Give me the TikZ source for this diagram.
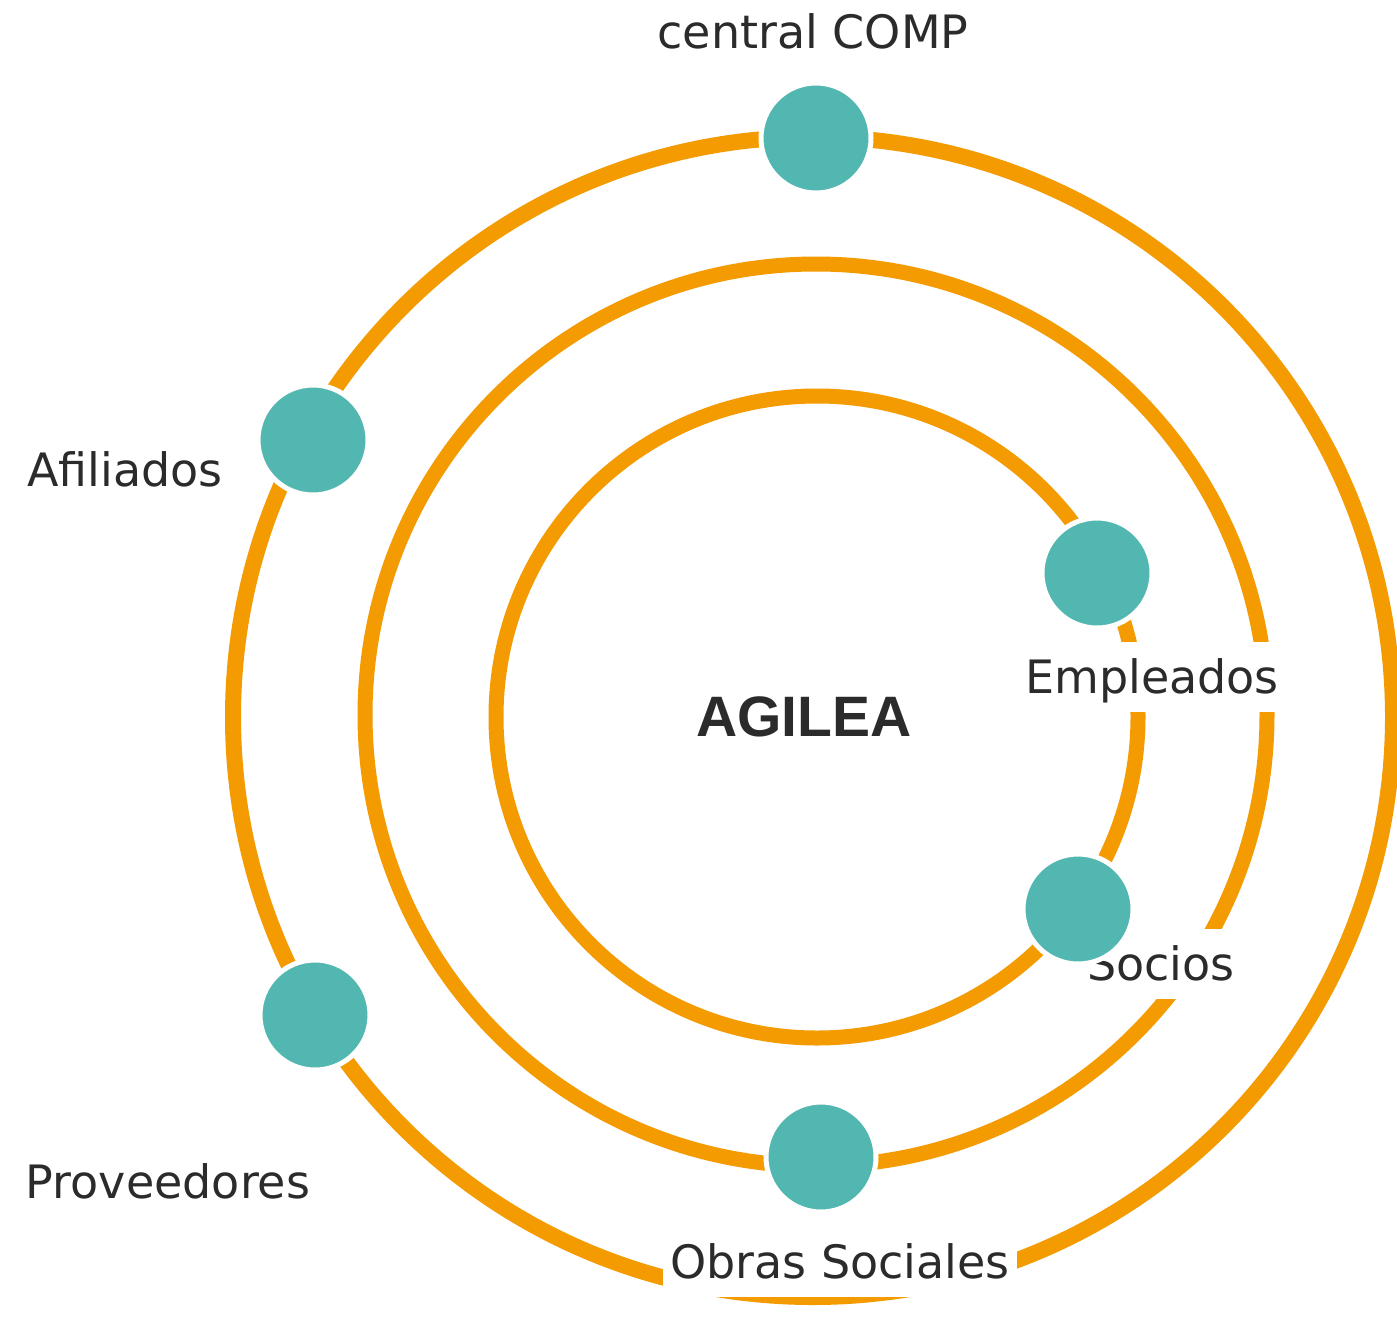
\documentclass[tikz,border=0pt]{standalone}
\usepackage{fontspec}
\setmainfont{DejaVu Sans}
\newfontfamily\boldlab{Liberation Sans}[BoldFont={Liberation Sans Bold}]
\definecolor{ringor}{RGB}{243,155,0}
\definecolor{dotteal}{RGB}{82,183,176}
\definecolor{txtdark}{RGB}{43,43,43}
\begin{document}
\begin{tikzpicture}[x=1pt,y=-1pt,
  ring/.style={draw=ringor,line width=#1},
  dotnode/.style={circle,fill=dotteal,draw=white,line width=5pt,minimum size=110pt,inner sep=0pt},
  lab/.style={text=txtdark,font=\fontsize{46}{54}\selectfont,inner sep=0pt,text height=33pt,text depth=0pt},
  boxlab/.style={lab,fill=white,minimum height=70pt,inner xsep=7pt},
  title/.style={text=txtdark,font=\boldlab\bfseries\fontsize{57}{64}\selectfont,inner sep=0pt,text height=41pt,text depth=0pt}]
\useasboundingbox[fill=white] (0,0) rectangle (1397,1322);
% rings
\draw[ring=16pt] (813,717) circle[radius=580];
\draw[ring=15pt] (816,715) circle[radius=451];
\draw[ring=15pt] (817,717) circle[radius=321];
% centre title
\node[title] (agilea) at (804,716) {AGILEA};
% labels
\node[lab] (lcomp) at (813,32) {central COMP};
\node[lab] (lafil) at (125,470) {Afiliados};
\node[lab] (lprov) at (168,1182) {Proveedores};
\node[boxlab] (lempl) at (1152,677) {Empleados};
\node[boxlab] (lsoc) at (1161,964) {Socios};
\node[boxlab] (lobras) at (840,1262) {Obras Sociales};
% dots
\node[dotnode] (dcomp) at (816,138) {};
\node[dotnode] (dafil) at (313,440) {};
\node[dotnode] (dprov) at (315,1015) {};
\node[dotnode] (dobras) at (821,1157) {};
\node[dotnode] (dempl) at (1097,573) {};
\node[dotnode] (dsoc) at (1078,909) {};
\end{tikzpicture}
\end{document}
